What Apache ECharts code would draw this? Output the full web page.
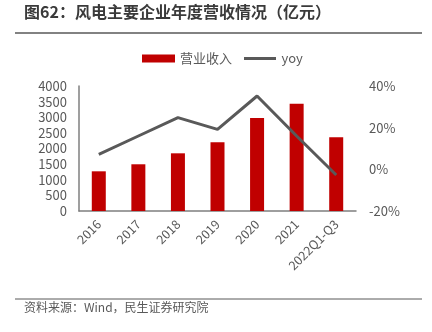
<!DOCTYPE html>
<html><head><meta charset="utf-8">
<script src="https://cdn.jsdelivr.net/npm/echarts@6/dist/echarts.min.js"></script>
<style>html,body{margin:0;padding:0;background:#fff}#c{width:432px;height:332px}</style>
</head><body><div id="c"></div>
<script>
const categories = ['2016','2017','2018','2019','2020','2021','2022Q1-Q3'];
const revenue = [1270, 1495, 1846, 2198, 2976, 3434, 2358];
const yoy = [7.2, 16.0, 24.8, 19.2, 35.2, 16.0, -2.7];
const leftTicks = [0, 4000, 500];
const rightTicks = [-20, 40, 20];
const font = '"Noto Sans CJK SC", "Noto Sans", sans-serif';
const chart = echarts.init(document.getElementById('c'));
chart.setOption({
  animation: false,
  textStyle: {fontFamily: font},
  graphic: [
    {type:'text', left:24, top:4, style:{text:'图62：风电主要企业年度营收情况（亿元）', font:'bold 16px "Noto Sans CJK SC"', fill:'#3a3a3a'}},
    {type:'line', shape:{x1:15,y1:33,x2:422,y2:33}, style:{stroke:'#595959', lineWidth:1.5}},
    {type:'line', shape:{x1:15,y1:299,x2:422,y2:299}, style:{stroke:'#595959', lineWidth:1}},
    {type:'text', left:24, top:301, style:{text:'资料来源：Wind，民生证券研究院', font:'12px "Noto Sans CJK SC"', fill:'#595959'}}
  ],
  legend: {
    top: 47, left: 137,
    itemGap: 12, itemWidth: 33, itemHeight: 8,
    textStyle: {fontSize: 13, color: '#595959', fontFamily: font},
    data: [{name:'营业收入', icon:'rect'}, {name:'yoy', icon:'path://M0,0L0.01,0M0,2.5L32,2.5L32,5.5L0,5.5ZM32,8L32.01,8'}]
  },
  grid: {left: 79, right: 76, top: 86, bottom: 121, containLabel: false},
  xAxis: {
    type: 'category', data: categories,
    axisLine: {lineStyle: {color: '#7f7f7f', width: 1.5}},
    axisTick: {show: false},
    axisLabel: {rotate: 45, fontSize: 12.5, color: '#595959', interval: 0, margin: 11}
  },
  yAxis: [
    {type:'value', min: leftTicks[0], max: leftTicks[1], interval: leftTicks[2],
     axisLine:{show:true, lineStyle:{color:'#7f7f7f', width:1.5}}, axisTick:{show:false},
     splitLine:{show:false}, axisLabel:{fontSize:13, color:'#595959', margin:12, formatter: v => String(v)}},
    {type:'value', min: rightTicks[0], max: rightTicks[1], interval: rightTicks[2],
     axisLine:{show:false}, axisTick:{show:false}, splitLine:{show:false},
     axisLabel:{fontSize:13, color:'#595959', margin:13, formatter:'{value}%'}}
  ],
  series: [
    {name:'营业收入', type:'bar', data: revenue, barWidth: 14, itemStyle:{color:'#C00000'}},
    {name:'yoy', type:'line', yAxisIndex:1, data: yoy, symbol:'none', lineStyle:{color:'#595959', width:3}, itemStyle:{color:'#595959'}}
  ]
});
</script></body></html>
